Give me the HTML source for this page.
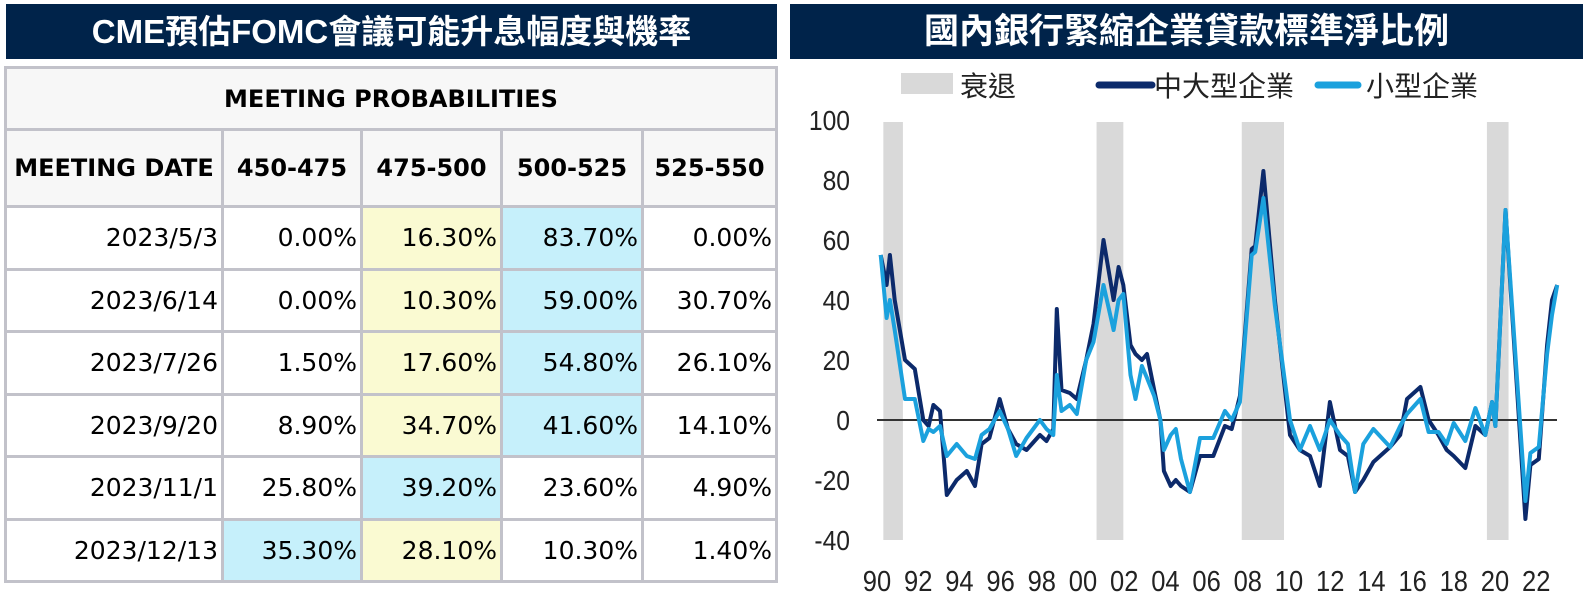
<!DOCTYPE html>
<html><head><meta charset="utf-8"><style>
body{margin:0;width:1589px;height:595px;background:#fff;position:relative;overflow:hidden;font-family:"Liberation Sans","Noto Sans CJK TC",sans-serif}
.banner{position:absolute;top:4px;height:55px;background:#00234a;color:#fff;line-height:55px;text-align:center;font-family:"Liberation Sans","Noto Sans CJK TC",sans-serif;font-weight:bold;white-space:nowrap}
table{position:absolute;left:4px;top:66px;width:774px;height:517px;border-collapse:collapse;border:3px solid #c2c2ca;font-family:"DejaVu Sans","Liberation Sans",sans-serif}
td{border:3px solid #c2c2ca;font-size:25px;text-align:right;padding:0 3px 0 0;color:#000;white-space:nowrap}
tr.h td{background:#f7f7f7;font-weight:bold;text-align:center;padding:0;font-size:24px}
.y{background:#fafad2}.c{background:#c6f0fb}
</style></head><body>
<div class="banner" style="left:6px;width:771px;font-size:33px">CME預估FOMC會議可能升息幅度與機率</div>
<div class="banner" style="left:790px;width:793px;font-size:35px">國內銀行緊縮企業貸款標準淨比例</div>
<table>
<tr class="h" style="height:62px"><td colspan="5">MEETING PROBABILITIES</td></tr>
<tr class="h" style="height:77px"><td style="width:214px">MEETING DATE</td><td style="width:136px">450-475</td><td style="width:137px">475-500</td><td style="width:138px">500-525</td><td>525-550</td></tr>
<tr><td>2023/5/3</td><td>0.00%</td><td class="y">16.30%</td><td class="c">83.70%</td><td>0.00%</td></tr>
<tr><td>2023/6/14</td><td>0.00%</td><td class="y">10.30%</td><td class="c">59.00%</td><td>30.70%</td></tr>
<tr><td>2023/7/26</td><td>1.50%</td><td class="y">17.60%</td><td class="c">54.80%</td><td>26.10%</td></tr>
<tr><td>2023/9/20</td><td>8.90%</td><td class="y">34.70%</td><td class="c">41.60%</td><td>14.10%</td></tr>
<tr><td>2023/11/1</td><td>25.80%</td><td class="c">39.20%</td><td>23.60%</td><td>4.90%</td></tr>
<tr><td>2023/12/13</td><td class="c">35.30%</td><td class="y">28.10%</td><td>10.30%</td><td>1.40%</td></tr>
</table>
<svg id="chart" style="position:absolute;left:0;top:0" width="1589" height="595" xmlns="http://www.w3.org/2000/svg"></svg>
<script>
const yTicks=[100,80,60,40,20,0,-20,-40];
const xTickYears=[1990,1992,1994,1996,1998,2000,2002,2004,2006,2008,2010,2012,2014,2016,2018,2020,2022];
const xTickLabels=["90","92","94","96","98","00","02","04","06","08","10","12","14","16","18","20","22"];
const recessions=[[1990.55,1991.5],[2000.9,2002.2],[2007.95,2010.0],[2019.85,2020.9]];
const dates=[1990.42,1990.71,1990.87,1991.1,1991.6,1992.08,1992.49,1992.75,1992.98,1993.3,1993.63,1994.11,1994.6,1995.0,1995.32,1995.7,1996.2,1996.6,1997.0,1997.5,1998.15,1998.47,1998.8,1998.97,1999.2,1999.6,1999.94,2000.4,2000.75,2001.24,2001.73,2001.97,2002.2,2002.55,2002.79,2003.1,2003.35,2003.7,2004.0,2004.17,2004.5,2004.75,2005.0,2005.43,2005.92,2006.57,2007.13,2007.46,2007.86,2008.43,2008.6,2009.0,2009.56,2010.29,2010.77,2011.26,2011.74,2012.23,2012.72,2013.1,2013.45,2013.85,2014.34,2015.15,2015.64,2015.97,2016.62,2017.02,2017.5,2017.9,2018.24,2018.8,2019.29,2019.77,2020.1,2020.26,2020.75,2021.72,2021.96,2022.37,2022.77,2023.01,2023.26];
const largeFirms=[55,45,55,40,20,17,0,-2,5,3,-25,-20,-17,-22,-8,-6,7,-3,-8,-10,-5,-7,-3,37,10,9,7,20,32,60,40,51,45,25,22,20,22,10,0,-17,-22,-20,-22,-24,-12,-12,-2,-3,8,57,58,83,40,-5,-10,-12,-22,6,-10,-12,-24,-20,-14,-9,-5,7,11,0,-5,-10,-12,-16,-2,-5,6,-2,70,-33,-15,-13,25,40,45];
const smallFirms=[55,34,40,30,7,7,-7,-3,-4,-2,-12,-8,-12,-13,-5,-3,3,-3,-12,-6,0,-3,-5,15,3,5,2,20,26,45,30,40,42,15,7,18,14,8,0,-10,-5,-3,-13,-24,-6,-6,3,0,6,55,56,74,38,0,-10,-2,-10,0,-5,-8,-24,-8,-3,-9,-2,2,7,-4,-4,-8,-1,-7,4,-5,6,-2,70,-27,-11,-9,22,35,45];
const svg=document.getElementById('chart');
const NS='http://www.w3.org/2000/svg';
const X=t=>872+(t-1990)*20.6;
const Y=v=>420-v*3;
function mk(tag,attrs){const e=document.createElementNS(NS,tag);for(const k in attrs)e.setAttribute(k,attrs[k]);svg.appendChild(e);return e;}
recessions.forEach(r=>{const e=mk('rect',{x:X(r[0]),y:Y(100)+2,width:X(r[1])-X(r[0]),height:Y(-40)-Y(100)-2,fill:'#d9d9d9'});

});
const z=mk('line',{x1:877,x2:1557,y1:Y(0),y2:Y(0),stroke:'#333','stroke-width':2});


yTicks.forEach(v=>{const t=mk('text',{x:0,y:0,'text-anchor':'end','font-size':28,fill:'#222','font-family':'Liberation Sans, sans-serif',transform:`translate(850,${Y(v)+10}) scale(0.88,1)`});t.textContent=v;

});
xTickYears.forEach((yr,i)=>{const t=mk('text',{x:0,y:0,'text-anchor':'middle','font-size':29,fill:'#222','font-family':'Liberation Sans, sans-serif',transform:`translate(${X(yr)+5},591) scale(0.88,1)`});t.textContent=xTickLabels[i];

});
function line(vals,color,name){const d=vals.map((v,i)=>(i?'L':'M')+X(dates[i]).toFixed(1)+','+Y(v).toFixed(1)).join('');const p=mk('path',{d:d,fill:'none',stroke:color,'stroke-width':4,'stroke-linejoin':'round'});

}
line(largeFirms,'#0c2a6b','large-firms-line');
line(smallFirms,'#1ba1dd','small-firms-line');
const lg=[['rect',{x:901,y:73,width:52,height:21,fill:'#d9d9d9'}],['line',{x1:1099,x2:1152,y1:85,y2:85,stroke:'#0c2a6b','stroke-width':7,'stroke-linecap':'round'}],['line',{x1:1318,x2:1358,y1:85,y2:85,stroke:'#1ba1dd','stroke-width':7,'stroke-linecap':'round'}]];
lg.forEach(a=>{const e=mk(a[0],a[1]);

});
[['衰退',960],['中大型企業',1154],['小型企業',1366]].forEach(a=>{const t=mk('text',{x:a[1],y:96,'font-size':28,fill:'#222','font-family':'Liberation Sans, Noto Sans CJK TC, sans-serif'});t.textContent=a[0];

});
</script>
</body></html>
